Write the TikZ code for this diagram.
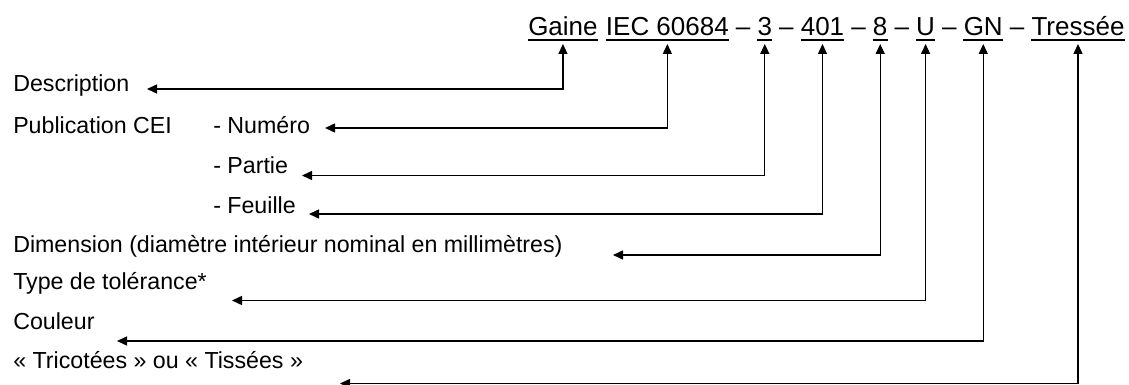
\documentclass[tikz,border=0pt]{standalone}
\usepackage{fontspec}
\setmainfont{Liberation Sans}
\usetikzlibrary{arrows.meta,calc}
\newcommand\myspc{\hskip\fontdimen2\font\relax}
\newcommand\dspc{\hskip\dimexpr\fontdimen2\font-0.45pt\relax}
\begin{document}
\begin{tikzpicture}[x=0.75pt,y=-0.75pt,
  top/.style={font=\fontsize{19.5}{23}\selectfont, inner sep=0pt, anchor=base west},
  lbl/.style={font=\fontsize{17.4}{20}\selectfont, inner sep=0pt, anchor=base west},
  uline/.style={line width=1.1pt},
  conn/.style={line width=0.9pt, {Triangle[length=7.5pt,width=6.8pt]}-{Triangle[length=7.5pt,width=6.8pt]}}]
\useasboundingbox (0,0) rectangle (1129,385);

% top designation line
\node[top] (gaine) at (528,36) {Gaine};
\node[top] (s1) at (gaine.base east) {\myspc\null};
\node[top] (iec) at (s1.base east) {IEC 60684};
\node[top] (d1) at (iec.base east) {\dspc–\dspc\null};
\node[top] (three) at (d1.base east) {3};
\node[top] (d2) at (three.base east) {\dspc–\dspc\null};
\node[top] (fouro) at (d2.base east) {401};
\node[top] (d3) at (fouro.base east) {\dspc–\dspc\null};
\node[top] (eight) at (d3.base east) {8};
\node[top] (d4) at (eight.base east) {\dspc–\dspc\null};
\node[top] (u) at (d4.base east) {U};
\node[top] (d5) at (u.base east) {\dspc–\dspc\null};
\node[top] (gn) at (d5.base east) {GN};
\node[top] (d6) at (gn.base east) {\dspc–\dspc\null};
\node[top] (tr) at (d6.base east) {Tressée};

\foreach \n in {gaine,iec,three,fouro,eight,u,gn,tr}{
  \draw[uline] ($(\n.base west)+(0,4)$) -- ($(\n.base east)+(0,4)$);
  \coordinate (t\n) at ($(\n.base)+(0,8)$);
}

% labels
\node[lbl] (desc) at (13,92) {Description};
\node[lbl] (pub) at (13,133) {Publication CEI};
\node[lbl] (num) at (213,133) {- Numéro};
\node[lbl] (part) at (213,173) {- Partie};
\node[lbl] (feu) at (213,214) {- Feuille};
\node[lbl] (dim) at (13,252) {Dimension (diamètre intérieur nominal en millimètres)};
\node[lbl] (type) at (13,289) {Type de tolérance*};
\node[lbl] (coul) at (13,329) {Couleur};
\node[lbl] (tric) at (13,368) {« Tricotées » ou « Tissées »};

% connector ends near the labels
\coordinate (cdesc) at (147,89);
\coordinate (cnum) at (325,128);
\coordinate (cpart) at (302,175.5);
\coordinate (cfeu) at (309,214);
\coordinate (cdim) at (613,255);
\coordinate (ctype) at (232,300.5);
\coordinate (ccoul) at (117,341);
\coordinate (ctric) at (340,383.5);

\draw[conn] (cdesc) -| (tgaine);
\draw[conn] (cnum) -| (tiec);
\draw[conn] (cpart) -| (tthree);
\draw[conn] (cfeu) -| (tfouro);
\draw[conn] (cdim) -| (teight);
\draw[conn] (ctype) -| (tu);
\draw[conn] (ccoul) -| (tgn);
\draw[conn] (ctric) -| (ttr);
\end{tikzpicture}
\end{document}
